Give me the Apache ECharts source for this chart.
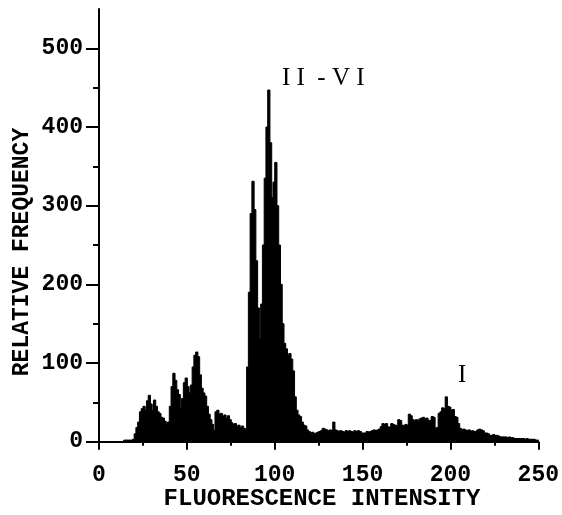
<!DOCTYPE html>
<html>
<head>
<meta charset="utf-8">
<script src="https://cdn.jsdelivr.net/npm/echarts@6/dist/echarts.min.js"></script>
<style>
  html, body { margin: 0; padding: 0; background: #fff; }
  #chart { width: 562px; height: 515px; }
</style>
</head>
<body>
<div id="chart"></div>
<script>
// Histogram channels: bin i covers intensity [i, i+1)
const binStart = 0;
const binWidth = 1;
const frequency = [
  0, 0, 0, 0, 0, 0, 0, 0, 0, 0,
  0, 0, 0, 0, 2, 2, 2, 2, 2, 3,
  10, 18, 25, 38, 42, 45, 40, 52, 59, 48,
  40, 53, 45, 38, 36, 31, 30, 26, 22, 25,
  45, 70, 87, 78, 66, 60, 42, 55, 75, 81,
  70, 62, 72, 95, 110, 114, 108, 85, 68, 62,
  58, 45, 35, 28, 22, 14, 38, 40, 35, 36,
  32, 34, 30, 33, 28, 24, 22, 23, 20, 21,
  18, 20, 17, 15, 95, 190, 290, 331, 295, 230,
  170, 130, 175, 250, 335, 400, 447, 380, 310, 330,
  355, 300, 250, 200, 150, 125, 118, 110, 112, 105,
  90, 57, 40, 34, 32, 25, 21, 20, 15, 13,
  11, 12, 10, 11, 12, 13, 14, 17, 16, 15,
  14, 15, 14, 25, 15, 14, 13, 14, 13, 12,
  14, 13, 14, 13, 12, 14, 13, 14, 13, 11,
  11, 11, 13, 12, 13, 14, 15, 14, 15, 16,
  19, 23, 22, 23, 19, 18, 23, 22, 21, 20,
  28, 27, 21, 20, 22, 21, 35, 33, 28, 27,
  28, 26, 29, 30, 31, 29, 30, 27, 27, 32,
  31, 17, 18, 36, 38, 43, 42, 57, 45, 44,
  40, 41, 32, 31, 23, 17, 15, 16, 15, 14,
  15, 13, 14, 13, 13, 15, 16, 15, 14, 11,
  11, 10, 8, 8, 9, 8, 8, 7, 6, 6,
  6, 6, 5, 6, 5, 5, 4, 4, 4, 4,
  4, 4, 3, 4, 3, 3, 3, 3, 2, 2
];

// Axis ticks
const xTicks = [0, 50, 100, 150, 200, 250];
const yLabelTicks = [0, 100, 200, 300, 400, 500];
const yMinorTicks = [50, 150, 250, 350, 450];

// Peak annotations: text, intensity, frequency
const peakNames = ['I I  - V I', 'I'];
const peakX = [127.6, 206.7];
const peakY = [462, 84];

const xTitle = 'FLUORESCENCE INTENSITY';
const yTitle = 'RELATIVE FREQUENCY';

const bins = frequency.map((f, i) => [binStart + i * binWidth, f]);

const monoBold = { fontFamily: 'Liberation Mono', fontWeight: 'bold', color: '#000' };

// Each bin is a filled rectangle from its left edge to the next bin edge;
// a thin outline of the same colour merges neighbouring bins into one solid shape
function renderBin(params, api) {
  const x0 = api.value(0);
  const top = api.coord([x0, api.value(1)]);
  const base = api.coord([x0 + binWidth, 0]);
  return {
    type: 'rect',
    shape: { x: top[0], y: top[1], width: base[0] - top[0] + 0.5, height: base[1] - top[1] },
    style: { fill: '#000', stroke: '#000', lineWidth: 1 }
  };
}

const chart = echarts.init(document.getElementById('chart'), null, { renderer: 'canvas' });
chart.setOption({
  animation: false,
  backgroundColor: '#fff',
  grid: { left: 99, right: 21, top: 9, bottom: 73.3, containLabel: false },
  xAxis: {
    type: 'value',
    min: xTicks[0],
    max: xTicks[xTicks.length - 1],
    interval: 50,
    axisLine: { lineStyle: { color: '#000', width: 2 } },
    axisTick: { show: true, length: 8, lineStyle: { color: '#000', width: 2 } },
    minorTick: { show: true, splitNumber: 2, length: 4, lineStyle: { color: '#000', width: 2 } },
    splitLine: { show: false },
    minorSplitLine: { show: false },
    axisLabel: Object.assign({ fontSize: 23, margin: 22 }, monoBold)
  },
  yAxis: [
    {
      type: 'value',
      min: 0,
      max: 550,
      interval: 50,
      position: 'left',
      axisLine: { show: true, lineStyle: { color: '#000', width: 2 } },
      axisTick: { show: true, length: 13, customValues: yLabelTicks, lineStyle: { color: '#000', width: 2 } },
      splitLine: { show: false },
      axisLabel: Object.assign({ fontSize: 23, margin: 16, customValues: yLabelTicks }, monoBold)
    },
    {
      type: 'value',
      min: 0,
      max: 550,
      interval: 50,
      position: 'left',
      offset: 0,
      axisLine: { show: false },
      axisTick: { show: true, length: 6, customValues: yMinorTicks, lineStyle: { color: '#000', width: 2 } },
      splitLine: { show: false },
      axisLabel: { show: false }
    }
  ],
  graphic: [
    {
      type: 'text',
      x: 322, y: 499,
      style: { text: xTitle, fontSize: 24, align: 'center', verticalAlign: 'middle', fill: '#000',
        fontFamily: 'Liberation Mono', fontWeight: 'bold' }
    },
    {
      type: 'text',
      x: 22, y: 252,
      rotation: Math.PI / 2,
      style: { text: yTitle, fontSize: 23, align: 'center', verticalAlign: 'middle', fill: '#000',
        fontFamily: 'Liberation Mono', fontWeight: 'bold' }
    }
  ],
  series: [
    {
      type: 'custom',
      yAxisIndex: 0,
      renderItem: renderBin,
      encode: { x: 0, y: 1 },
      data: bins,
      clip: true,
      markPoint: {
        symbol: 'circle',
        symbolSize: 0,
        label: {
          show: true,
          position: 'inside',
          color: '#000',
          fontFamily: 'Liberation Serif',
          fontSize: 25,
          formatter: p => p.name
        },
        data: peakNames.map((n, i) => ({ name: n, coord: [peakX[i], peakY[i]] }))
      }
    }
  ]
});
</script>
</body>
</html>
